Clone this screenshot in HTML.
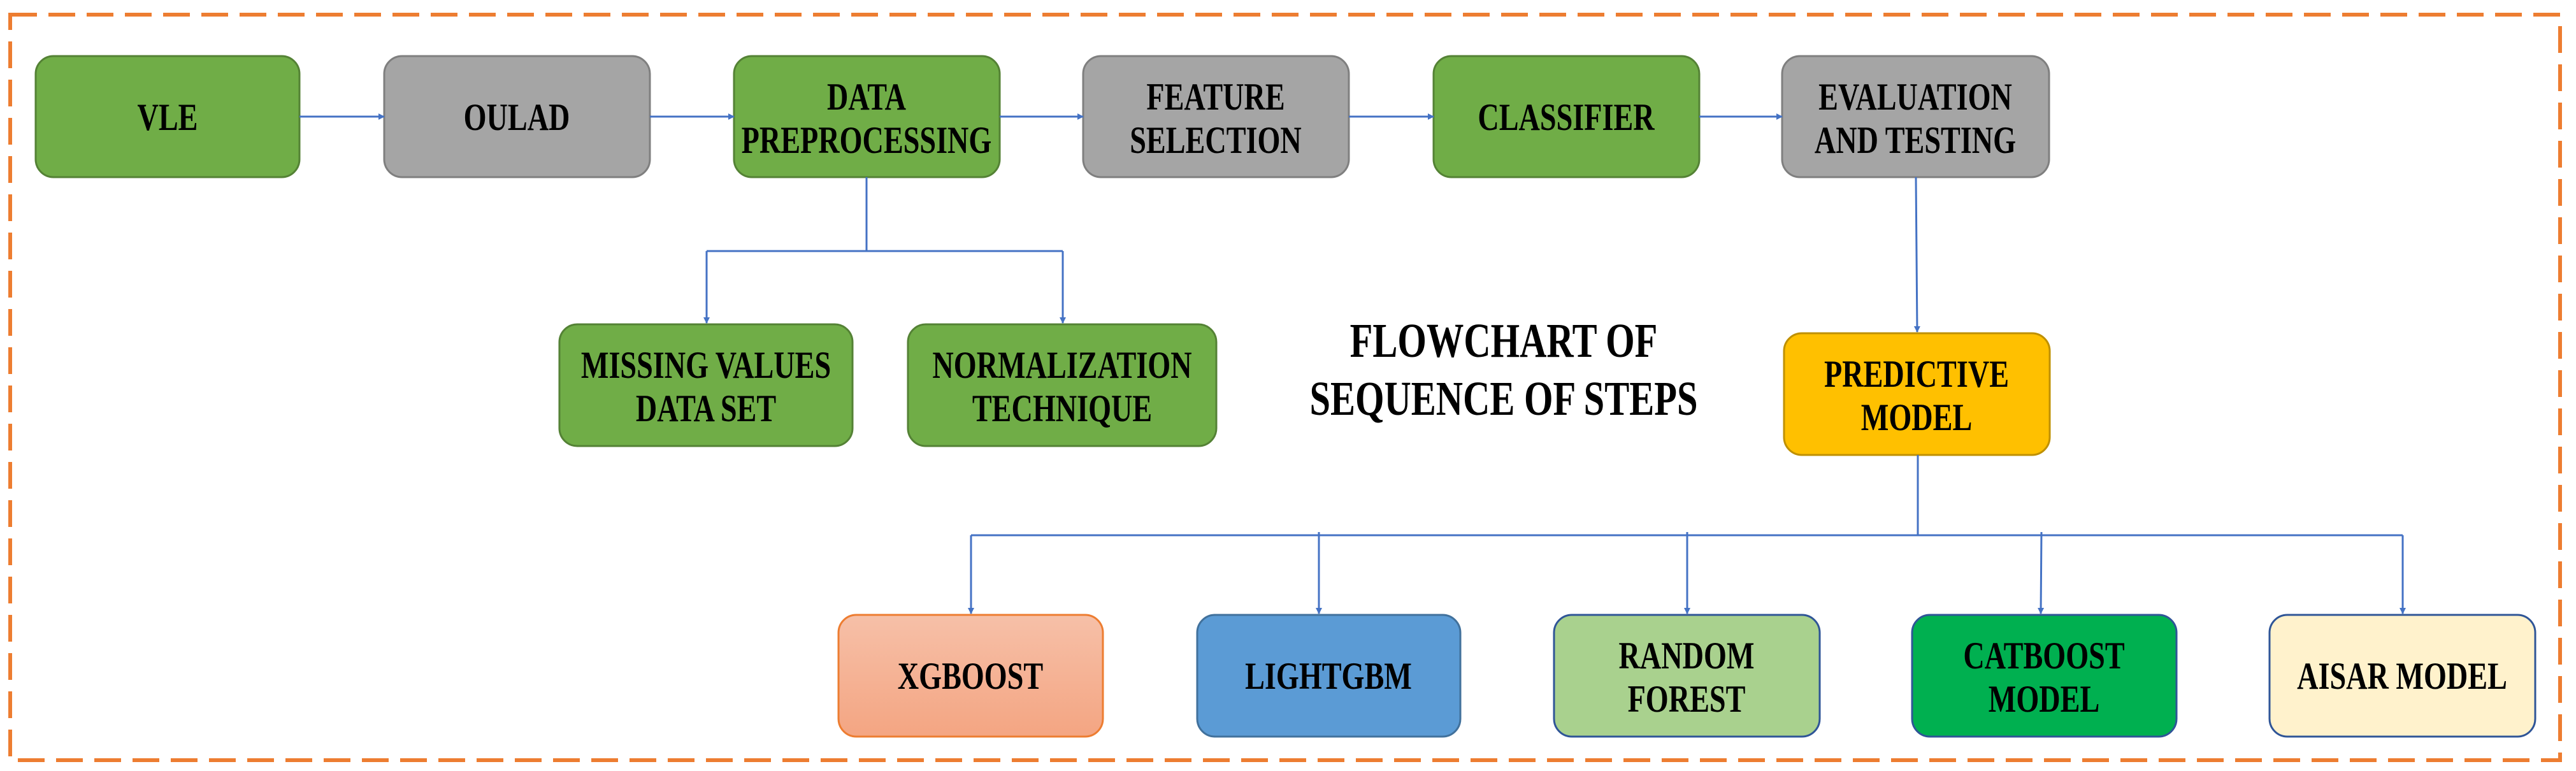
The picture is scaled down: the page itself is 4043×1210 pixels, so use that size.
<!DOCTYPE html>
<html><head><meta charset="utf-8"><style>html,body{margin:0;padding:0;background:#fff}svg{display:block}.t{font-family:"Liberation Serif","Times New Roman",serif;font-weight:bold}</style></head>
<body>
<svg width="4043" height="1210" viewBox="0 0 4043 1210" xmlns="http://www.w3.org/2000/svg">
<defs>
<marker id="a" markerWidth="10" markerHeight="10" refX="9" refY="5" orient="auto" markerUnits="userSpaceOnUse" viewBox="0 0 10 10"><path d="M0,0 L10,5 L0,10 z" fill="#4472C4"/></marker>
<linearGradient id="xg" x1="0" y1="0" x2="0" y2="1"><stop offset="0" stop-color="#F6C0A8"/><stop offset="1" stop-color="#F4A582"/></linearGradient>
</defs>
<rect x="16" y="23" width="4002" height="1170" fill="none" stroke="#ED7D31" stroke-width="6" stroke-dasharray="42,18"/>
<g stroke-width="3">
<rect x="56" y="88" width="414" height="190" rx="28" fill="#70AD47" stroke="#548235"/>
<rect x="603" y="88" width="417" height="190" rx="28" fill="#A5A5A5" stroke="#7F7F7F"/>
<rect x="1152" y="88" width="417" height="190" rx="28" fill="#70AD47" stroke="#548235"/>
<rect x="1700" y="88" width="417" height="190" rx="28" fill="#A5A5A5" stroke="#7F7F7F"/>
<rect x="2250" y="88" width="417" height="190" rx="28" fill="#70AD47" stroke="#548235"/>
<rect x="2797" y="88" width="419" height="190" rx="28" fill="#A5A5A5" stroke="#7F7F7F"/>
<rect x="878" y="509" width="460" height="191" rx="28" fill="#70AD47" stroke="#548235"/>
<rect x="1425" y="509" width="484" height="191" rx="28" fill="#70AD47" stroke="#548235"/>
<rect x="2800" y="523" width="417" height="191" rx="28" fill="#FFC000" stroke="#BF9000"/>
<rect x="1316" y="965" width="415" height="191" rx="28" fill="url(#xg)" stroke="#ED7D31"/>
<rect x="1879" y="965" width="413" height="191" rx="28" fill="#5B9BD5" stroke="#41719C"/>
<rect x="2439" y="965" width="417" height="191" rx="28" fill="#A9D18E" stroke="#2F5597"/>
<rect x="3001" y="965" width="415" height="191" rx="28" fill="#00B050" stroke="#2F5597"/>
<rect x="3562" y="965" width="417" height="191" rx="28" fill="#FFF2CC" stroke="#2F5597"/>
</g>
<g stroke="#4472C4" stroke-width="3" fill="none">
<line x1="470" y1="183" x2="603" y2="183" marker-end="url(#a)"/>
<line x1="1020" y1="183" x2="1152" y2="183" marker-end="url(#a)"/>
<line x1="1569" y1="183" x2="1700" y2="183" marker-end="url(#a)"/>
<line x1="2117" y1="183" x2="2250" y2="183" marker-end="url(#a)"/>
<line x1="2667" y1="183" x2="2797" y2="183" marker-end="url(#a)"/>
<polyline points="1360,278 1360,394"/>
<polyline points="1109,394 1668,394"/>
<line x1="1109" y1="394" x2="1109" y2="507" marker-end="url(#a)"/>
<line x1="1668" y1="394" x2="1668" y2="507" marker-end="url(#a)"/>
<line x1="3007" y1="278" x2="3009" y2="521" marker-end="url(#a)"/>
<polyline points="3010,714 3010,840"/>
<polyline points="1524,840 3771,840"/>
<line x1="1524" y1="840" x2="1524" y2="963" marker-end="url(#a)"/>
<line x1="2070" y1="835" x2="2070" y2="963" marker-end="url(#a)"/>
<line x1="2648" y1="835" x2="2648" y2="963" marker-end="url(#a)"/>
<line x1="3204" y1="835" x2="3203" y2="963" marker-end="url(#a)"/>
<line x1="3771" y1="840" x2="3771" y2="963" marker-end="url(#a)"/>
</g>
<g class="t" font-size="60" fill="#000" text-anchor="middle">
<g transform="translate(263,0) scale(0.77,1)"><text x="0" y="204">VLE</text></g>
<g transform="translate(811,0) scale(0.77,1)"><text x="0" y="204">OULAD</text></g>
<g transform="translate(1360,0) scale(0.77,1)"><text x="0" y="172">DATA</text><text x="0" y="240">PREPROCESSING</text></g>
<g transform="translate(1908,0) scale(0.77,1)"><text x="0" y="172">FEATURE</text><text x="0" y="240">SELECTION</text></g>
<g transform="translate(2458,0) scale(0.77,1)"><text x="0" y="204">CLASSIFIER</text></g>
<g transform="translate(3006,0) scale(0.77,1)"><text x="0" y="172">EVALUATION</text><text x="0" y="240">AND TESTING</text></g>
<g transform="translate(1108,0) scale(0.77,1)"><text x="0" y="593">MISSING VALUES</text><text x="0" y="661">DATA SET</text></g>
<g transform="translate(1667,0) scale(0.77,1)"><text x="0" y="593">NORMALIZATION</text><text x="0" y="661">TECHNIQUE</text></g>
<g transform="translate(3008,0) scale(0.77,1)"><text x="0" y="607">PREDICTIVE</text><text x="0" y="675">MODEL</text></g>
<g transform="translate(1523,0) scale(0.77,1)"><text x="0" y="1081">XGBOOST</text></g>
<g transform="translate(2085,0) scale(0.77,1)"><text x="0" y="1081">LIGHTGBM</text></g>
<g transform="translate(2647,0) scale(0.77,1)"><text x="0" y="1049">RANDOM</text><text x="0" y="1117">FOREST</text></g>
<g transform="translate(3208,0) scale(0.77,1)"><text x="0" y="1049">CATBOOST</text><text x="0" y="1117">MODEL</text></g>
<g transform="translate(3770,0) scale(0.77,1)"><text x="0" y="1081">AISAR MODEL</text></g>
<g transform="translate(2360,0) scale(0.77,1)" font-size="76"><text x="0" y="560">FLOWCHART OF</text><text x="0" y="651">SEQUENCE OF STEPS</text></g>
</g>
</svg>
</body></html>
